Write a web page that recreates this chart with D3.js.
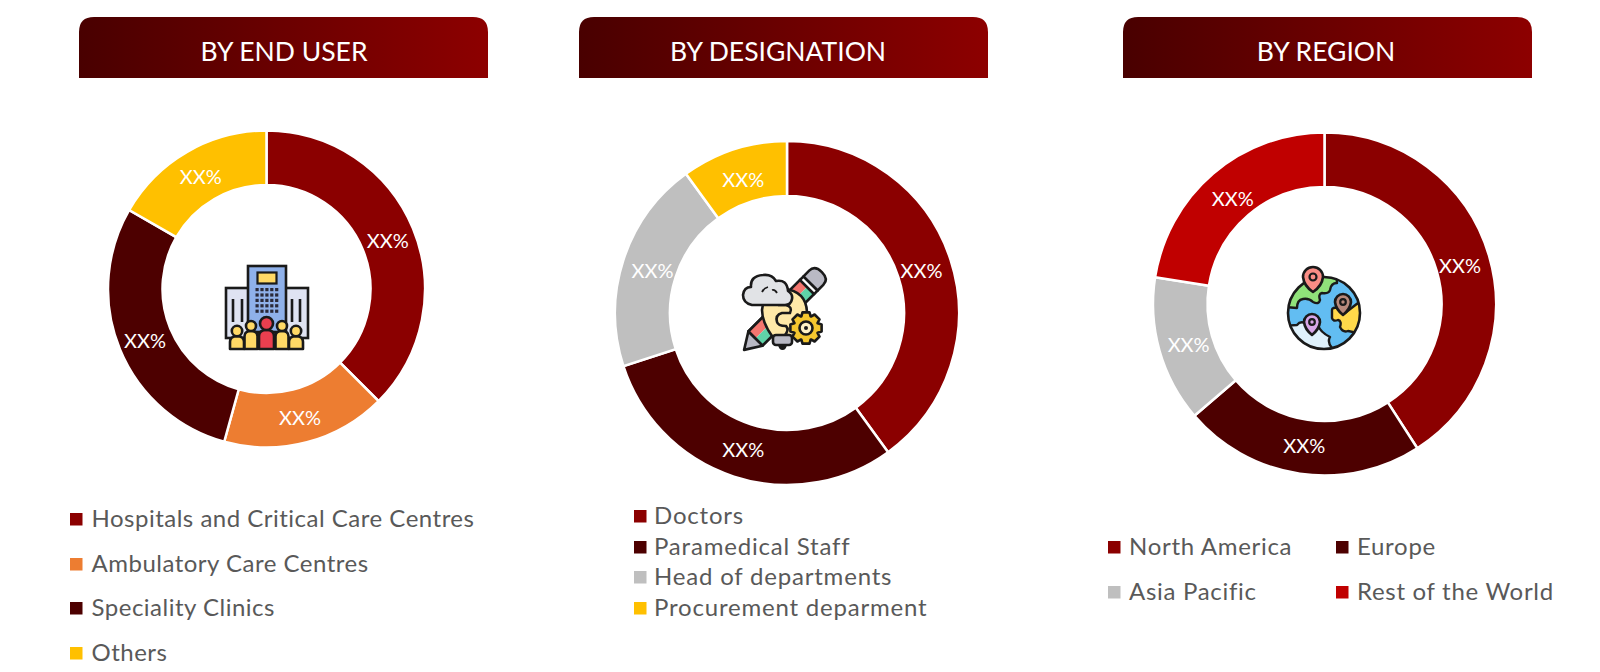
<!DOCTYPE html>
<html><head><meta charset="utf-8">
<script src="https://cdn.jsdelivr.net/npm/d3@7"></script>
<style>html,body{margin:0;padding:0;background:#fff;overflow:hidden}svg{display:block}text{font-family:Lato,"Open Sans",sans-serif}</style>
</head><body><svg id="c" width="1600" height="672"></svg>
<script>
// ---- data ----
const endUserCats = ["Hospitals and Critical Care Centres","Ambulatory Care Centres","Speciality Clinics","Others"];
const endUserVals = [37.5,16.8,29,16.7];
const endUserCols = ["#8b0000","#ed7d31","#4d0000","#ffc000"];
const desigCats = ["Doctors","Paramedical Staff","Head of departments","Procurement deparment"];
const desigVals = [40,30,20,10];
const desigCols = ["#8b0000","#4d0000","#bfbfbf","#ffc000"];
const regionCats = ["North America","Europe","Asia Pacific","Rest of the World"];
const regionVals = [40.9,22.8,13.8,22.5];
const regionCols = ["#8b0000","#4d0000","#bfbfbf","#c00000"];
const sliceLabel = "XX%";
const titles = ["BY END USER","BY DESIGNATION","BY REGION"];

const svg = d3.select("#c");
const defs = svg.append("defs");
const grad = defs.append("linearGradient").attr("id","hg");
grad.append("stop").attr("offset","0").attr("stop-color","#490000");
grad.append("stop").attr("offset","1").attr("stop-color","#8d0000");

function header(x,title,tx){
  const w=409,h=61,y=17,r=15;
  svg.append("path").attr("fill","url(#hg)")
    .attr("d",`M${x},${y+h}V${y+r}Q${x},${y} ${x+r},${y}H${x+w-r}Q${x+w},${y} ${x+w},${y+r}V${y+h}Z`);
  svg.append("text").attr("x",tx).attr("y",y+h/2+13).attr("text-anchor","middle")
    .attr("fill","#fff").attr("font-size",26.5).text(title);
}
[[79,284],[579,778],[1123,1326]].forEach((p,i)=>header(p[0],titles[i],p[1]));

function donut(cx,cy,R,r,vals,cols,labelInset){
  const g=svg.append("g").attr("transform",`translate(${cx},${cy})`);
  const pie=d3.pie().sort(null)(vals);
  const arc=d3.arc().innerRadius(r).outerRadius(R);
  const labelArc=d3.arc().innerRadius(r-labelInset).outerRadius(R-labelInset);
  g.selectAll("path").data(pie).join("path").attr("d",arc)
    .attr("fill",(d,i)=>cols[i]).attr("stroke","#fff").attr("stroke-width",2.5);
  g.selectAll("text").data(pie).join("text")
    .attr("x",d=>labelArc.centroid(d)[0]).attr("y",d=>labelArc.centroid(d)[1]+9)
    .attr("text-anchor","middle").attr("fill","#fff").attr("font-size",20).text(sliceLabel);
}
donut(266.5,289,158.5,104,endUserVals,endUserCols,0);
donut(787,313,172,117,desigVals,desigCols,3);
donut(1324.5,304,171.5,117,regionVals,regionCols,3);

function legend(items,cols,positions,dx,ls){
  items.forEach((t,i)=>{
    const [x,y]=positions[i];
    svg.append("rect").attr("x",x).attr("y",y-6).attr("width",12.5).attr("height",12.5).attr("fill",cols[i]);
    svg.append("text").attr("x",x+dx).attr("y",y+8).attr("fill","#595959").attr("font-size",24)
      .attr("letter-spacing",ls).text(t);
  });
}
legend(endUserCats,endUserCols,[[70,519],[70,564],[70,608],[70,653]],21.5,0.5);
legend(desigCats,desigCols,[[634,516],[634,547],[634,577],[634,608]],20,0.8);
legend(regionCats,regionCols,[[1108,547],[1336,547],[1108,592],[1336,592]],21,0.7);

// ---- icons ----
const K="#1a1a1a",SW=2.6;
function shape(g,tag,attrs){const s=g.append(tag);Object.entries(attrs).forEach(([k,v])=>s.attr(k,v));return s;}
function person(g,x,headY,hr,w,fill,bot){
  shape(g,"path",{d:`M${x-w/2},${bot}V${headY+hr+w*0.4}Q${x-w/2},${headY+hr} ${x},${headY+hr}Q${x+w/2},${headY+hr} ${x+w/2},${headY+hr+w*0.4}V${bot}Z`,fill,stroke:K,"stroke-width":SW,"stroke-linejoin":"round"});
  shape(g,"circle",{cx:x,cy:headY,r:hr,fill,stroke:K,"stroke-width":SW});
}
// hospital
(function(){
  const g=svg.append("g");
  shape(g,"rect",{x:226,y:288,width:82,height:50,fill:"#dfe3f2",stroke:K,"stroke-width":SW});
  [233,242,292,300].forEach(x=>shape(g,"line",{x1:x,x2:x,y1:299,y2:322,stroke:K,"stroke-width":2.6}));
  shape(g,"rect",{x:248,y:266,width:38,height:66,fill:"#8fb1ea",stroke:K,"stroke-width":SW});
  shape(g,"rect",{x:257.5,y:272.5,width:19,height:11,fill:"#ffd966",stroke:K,"stroke-width":2.2});
  for(let r=0;r<5;r++)for(let c=0;c<5;c++)
    shape(g,"rect",{x:255.5+c*4.9,y:288+r*5.4,width:3.2,height:3.2,fill:"#2a2a3a"});
  person(g,237,331,5.2,14,"#ffd966",349);
  person(g,296,331,5.2,14,"#ffd966",349);
  person(g,251,326,5,13,"#ffd966",349);
  person(g,282,326,5,13,"#ffd966",349);
  person(g,266.5,323.5,6.5,15,"#ea3f4f",349);
})();
// idea
(function(){
  const g=svg.append("g");
  const tr="rotate(45 783 311)";
  const ps=(o)=>Object.assign({stroke:K,"stroke-width":SW,transform:tr,"stroke-linejoin":"round"},o);
  shape(g,"rect",{x:773,y:277,width:10,height:48,fill:"#f4766f",transform:tr});
  shape(g,"rect",{x:783,y:277,width:10,height:48,fill:"#5fd3a8",transform:tr});
  shape(g,"rect",ps({x:773,y:277,width:20,height:73,fill:"none"}));
  shape(g,"rect",{x:773,y:325,width:10,height:25,fill:"#f4766f",transform:tr});
  shape(g,"rect",{x:783,y:325,width:10,height:25,fill:"#5fd3a8",transform:tr});
  shape(g,"rect",ps({x:773,y:325,width:20,height:25,fill:"none"}));
  shape(g,"rect",ps({x:773,y:272,width:20,height:5,fill:"#fff"}));
  shape(g,"path",ps({d:"M773,272V264Q773,256 783,256Q793,256 793,264V272Z",fill:"#b9b9c4"}));
  shape(g,"path",ps({d:"M773,350H793L783,366Z",fill:"#b9b9c4"}));
  // bulb
  shape(g,"path",{d:"M772,336Q762,322 762,310Q764,291 784,289Q806,291 807,312Q806,326 793,336Z",fill:"#ffe9a8",stroke:K,"stroke-width":SW});
  shape(g,"path",{d:"M778,305H786Q793,307 790,313H782Q775,315 777,322Q778,326 786,326Q790,330 784,336",fill:"none",stroke:K,"stroke-width":SW});
  shape(g,"rect",{x:773,y:335,width:19,height:10,rx:3,fill:"#b9b9c4",stroke:K,"stroke-width":SW});
  shape(g,"path",{d:"M778,345h9q-1,5 -4.5,5t-4.5,-5z",fill:K});
  // gear
  const gear=d3.range(0,8).flatMap(i=>{const a=i*Math.PI/4;const p=(r,t)=>[806+r*Math.cos(a+t),328+r*Math.sin(a+t)];
    return [p(12.5,-0.38),p(16,-0.22),p(16,0.22),p(12.5,0.38)];});
  shape(g,"path",{d:d3.line()(gear)+"Z",fill:"#f5c72f",stroke:K,"stroke-width":SW,"stroke-linejoin":"round"});
  shape(g,"circle",{cx:806,cy:328,r:6.5,fill:"#fff2c4",stroke:K,"stroke-width":SW});
  shape(g,"circle",{cx:806,cy:328,r:2,fill:K});
  // cloud
  shape(g,"path",{d:"M752,305Q743,303 743,295Q744,287 751,287Q750,276 763,275Q772,274 776,281Q787,279 788,291Q793,294 792,299Q791,305 785,305Z",fill:"#e1e3e6",stroke:K,"stroke-width":SW,"stroke-linejoin":"round"});
  shape(g,"path",{d:"M762,292Q764,288 768,287M772,290Q775,289 777,293",fill:"none",stroke:K,"stroke-width":1.8});
})();
// globe
(function(){
  const g=svg.append("g"),cx=1324,cy=313,R=36;
  const cid="gc"; defs.append("clipPath").attr("id",cid).append("circle").attr("cx",cx).attr("cy",cy).attr("r",R);
  shape(g,"circle",{cx,cy,r:R,fill:"#62bdf2"});
  const c=g.append("g").attr("clip-path",`url(#${cid})`);
  const land=(d,fill)=>shape(c,"path",{d,fill,stroke:K,"stroke-width":2.4,"stroke-linejoin":"round"});
  land("M1285,307L1297,308Q1297,300 1303,299Q1309,298 1313,302Q1319,305 1320,300Q1318,294 1322,293Q1329,294 1330,290Q1331,283 1337,283L1336,270H1290Z","#90e27a");
  land("M1332,310Q1332,307 1338,308Q1340,314 1345,313L1358,303L1368,310V335L1348,331Q1343,333 1340,327Q1342,321 1338,320Q1333,322 1332,318Z","#ffd94a");
  land("M1282,326L1297,325Q1300,321 1305,323L1318,325Q1320,332 1330,337Q1327,342 1332,348L1330,355H1282Z","#dff1fb");
  shape(g,"circle",{cx,cy,r:R,fill:"none",stroke:K,"stroke-width":SW});
  function pin(x,y,s,tip,fill){
    shape(g,"path",{d:`M${x},${y+tip}Q${x-s*0.9},${y+s*0.9} ${x-s},${y}A${s},${s} 0 1 1 ${x+s},${y}Q${x+s*0.9},${y+s*0.9} ${x},${y+tip}Z`,fill,stroke:K,"stroke-width":SW,"stroke-linejoin":"round"});
    shape(g,"circle",{cx:x,cy:y,r:s*0.35,fill:"none",stroke:K,"stroke-width":2.2});
  }
  pin(1313,277,10,15,"#f98d85");
  pin(1343,302,8,13,"#b98a7c");
  pin(1312,322,8,13,"#d8a6e8");
})();
</script></body></html>
